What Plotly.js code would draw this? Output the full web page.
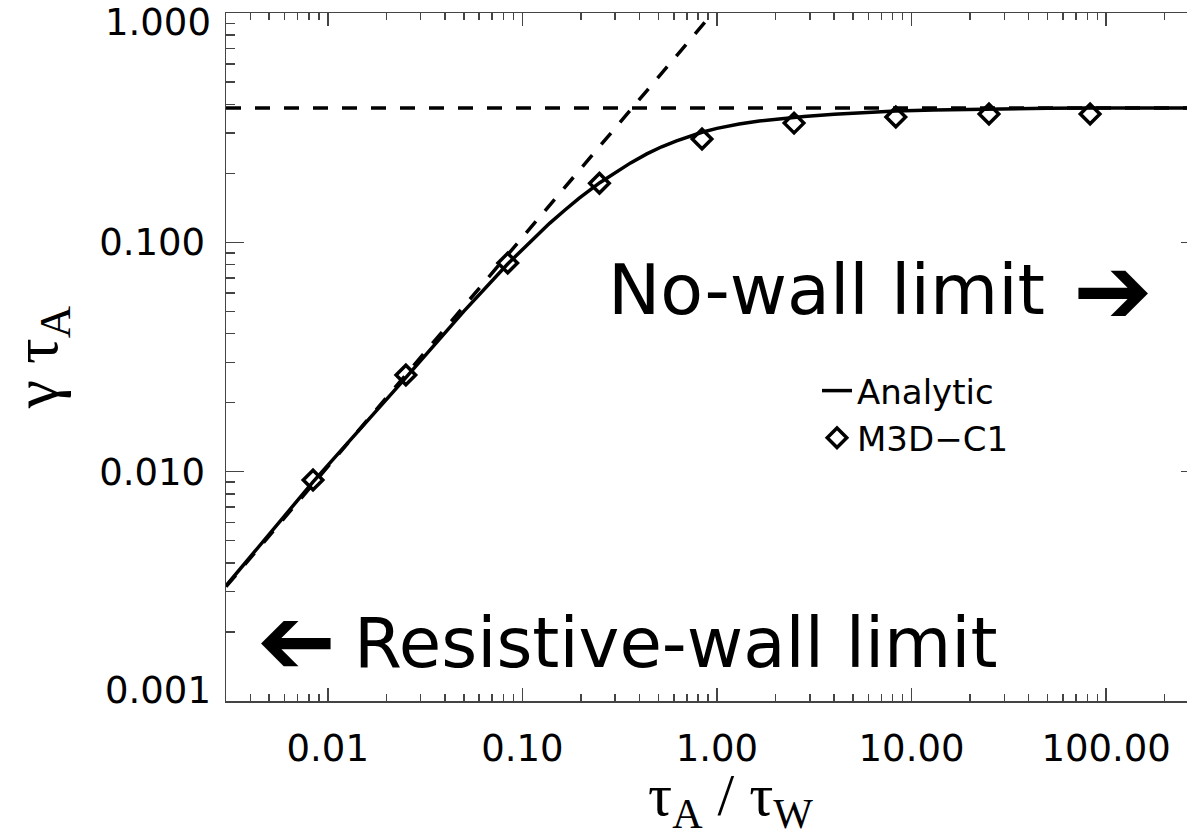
<!DOCTYPE html>
<html>
<head>
<meta charset="utf-8">
<script src="https://cdn.plot.ly/plotly-3.0.1.min.js"></script>
<style>
  html, body { margin: 0; padding: 0; overflow: hidden; background: #fff; }
  #chart { width: 1210px; height: 832px; }
</style>
</head>
<body>
<div id="chart"></div>
<script>
// ---- data ----
const curveX = [0.003, 0.00838, 0.025, 0.05, 0.084, 0.11, 0.138, 0.165, 0.196, 0.25, 0.3, 0.36, 0.436, 0.52, 0.62, 0.72, 0.838, 1.0, 1.3, 1.65, 2.11, 2.8, 4, 5.5, 8.3, 13, 25, 50, 83, 150, 300];
const curveY = [0.00318, 0.0090, 0.0255, 0.0500, 0.0805, 0.101, 0.121, 0.138, 0.156, 0.182, 0.202, 0.222, 0.243, 0.261, 0.277, 0.290, 0.302, 0.314, 0.328, 0.338, 0.346, 0.354, 0.362, 0.368, 0.374, 0.378, 0.382, 0.384, 0.385, 0.385, 0.385];

const simX = [0.0084, 0.0252, 0.0841, 0.249, 0.838, 2.49, 8.3, 25, 82.7];
const simY = [0.0092, 0.0264, 0.0812, 0.181, 0.282, 0.331, 0.352, 0.363, 0.363];

const wallLineX = [0.003, 0.952];      // resistive-wall asymptote
const wallLineY = [0.00315, 1.0];
const noWallX = [0.003, 300];          // no-wall asymptote
const noWallY = [0.385, 0.385];

const xTickVals = [0.01, 0.1, 1, 10, 100];
const xTickText = ['0.01', '0.10', '1.00', '10.00', '100.00'];
const yTickVals = [0.001, 0.01, 0.1, 1];
const yTickText = ['', '0.010', '0.100', ''];
const yEndLabels = ['1.000', '0.001'];   // end labels, set slightly inside like the original

const seriesNames = ['Analytic', 'M3D\u2212C1'];
const xTitle = '\u03c4<sub>A</sub> / \u03c4<sub>W</sub>';
const yTitle = '\u03b3 \u03c4<sub>A</sub>';
const noWallLabel = 'No-wall limit';
const wallLabel = 'Resistive-wall limit';
const arrowGlyph = '\u2794';

// ---- chart ----
const sans = 'DejaVu Sans, sans-serif';
const serif = 'Liberation Serif, Times New Roman, serif';
const axisCol = '#444';
const px2x = p => (p - 226) / 973;
const px2y = p => 1 - (p - 13) / 688;

const traces = [
  { x: wallLineX, y: wallLineY, mode: 'lines', showlegend: false, hoverinfo: 'skip',
    line: { color: '#000', width: 3.5, dash: '15px,14px' } },
  { x: noWallX, y: noWallY, mode: 'lines', showlegend: false, hoverinfo: 'skip',
    line: { color: '#000', width: 3.5, dash: '15px,14px' } },
  { x: curveX, y: curveY, mode: 'lines', name: seriesNames[0],
    line: { color: '#000', width: 3.5 } },
  { x: simX, y: simY, mode: 'markers', name: seriesNames[1],
    marker: { symbol: 'diamond-open', size: 15, color: '#000', line: { color: '#000', width: 3.5 } } }
];

const tickFont = { family: sans, size: 37, color: '#000' };

const layout = {
  width: 1210, height: 832,
  margin: { l: 226, r: 11, t: 13, b: 131 },
  paper_bgcolor: '#fff', plot_bgcolor: '#fff',
  font: { family: sans, color: '#000' },
  showlegend: true,
  legend: {
    x: px2x(817), xanchor: 'left',
    y: px2y(362), yanchor: 'top',
    bgcolor: 'rgba(0,0,0,0)', borderwidth: 0,
    font: { family: sans, size: 34, color: '#000' },
    itemwidth: 30
  },
  xaxis: {
    type: 'log', range: [Math.log10(0.003), Math.log10(300)],
    tickmode: 'array', tickvals: xTickVals, ticktext: xTickText,
    ticks: 'inside', ticklen: 13, tickwidth: 1.5, tickcolor: axisCol,
    minor: { ticks: 'inside', ticklen: 7, tickwidth: 1.5, tickcolor: axisCol, dtick: 'D1', showgrid: false },
    showline: true, linecolor: axisCol, linewidth: 1.5, mirror: 'ticks',
    showgrid: false, zeroline: false,
    tickfont: tickFont,
    ticklabelstandoff: 14
  },
  yaxis: {
    type: 'log', range: [-3, 0],
    tickmode: 'array', tickvals: yTickVals, ticktext: yTickText,
    ticks: 'inside', ticklen: 18, tickwidth: 1.5, tickcolor: axisCol,
    minor: { ticks: 'inside', ticklen: 9, tickwidth: 1.5, tickcolor: axisCol, dtick: 'D1', showgrid: false },
    showline: true, linecolor: axisCol, linewidth: 1.5, mirror: 'ticks',
    showgrid: false, zeroline: false,
    tickfont: tickFont,
    ticklabelstandoff: 12,
    title: { text: yTitle, font: { family: serif, size: 64, color: '#000' }, standoff: 22 }
  },
  annotations: [
    { xref: 'paper', yref: 'paper', x: px2x(730), y: px2y(760),
      xanchor: 'center', yanchor: 'top', showarrow: false, text: xTitle,
      font: { family: serif, size: 60, color: '#000' } },
    { xref: 'paper', yref: 'paper', x: px2x(213), y: px2y(22),
      xanchor: 'right', yanchor: 'middle', showarrow: false, text: yEndLabels[0], font: tickFont },
    { xref: 'paper', yref: 'paper', x: px2x(213), y: px2y(690),
      xanchor: 'right', yanchor: 'middle', showarrow: false, text: yEndLabels[1], font: tickFont },
    { xref: 'paper', yref: 'paper', x: px2x(606), y: px2y(290),
      xanchor: 'left', yanchor: 'middle', showarrow: false, text: noWallLabel,
      font: { family: sans, size: 70, color: '#000' } },
    { xref: 'paper', yref: 'paper', x: px2x(1113), y: px2y(290),
      xanchor: 'center', yanchor: 'middle', showarrow: false, text: arrowGlyph,
      font: { family: sans, size: 95, color: '#000' } },
    { xref: 'paper', yref: 'paper', x: px2x(352), y: px2y(643),
      xanchor: 'left', yanchor: 'middle', showarrow: false, text: wallLabel,
      font: { family: sans, size: 69, color: '#000' } },
    { xref: 'paper', yref: 'paper', x: px2x(296), y: px2y(647),
      xanchor: 'center', yanchor: 'middle', showarrow: false, text: arrowGlyph, textangle: 180,
      font: { family: sans, size: 95, color: '#000' } }
  ]
};

Plotly.newPlot('chart', traces, layout, { staticPlot: true, displayModeBar: false });
</script>
</body>
</html>
